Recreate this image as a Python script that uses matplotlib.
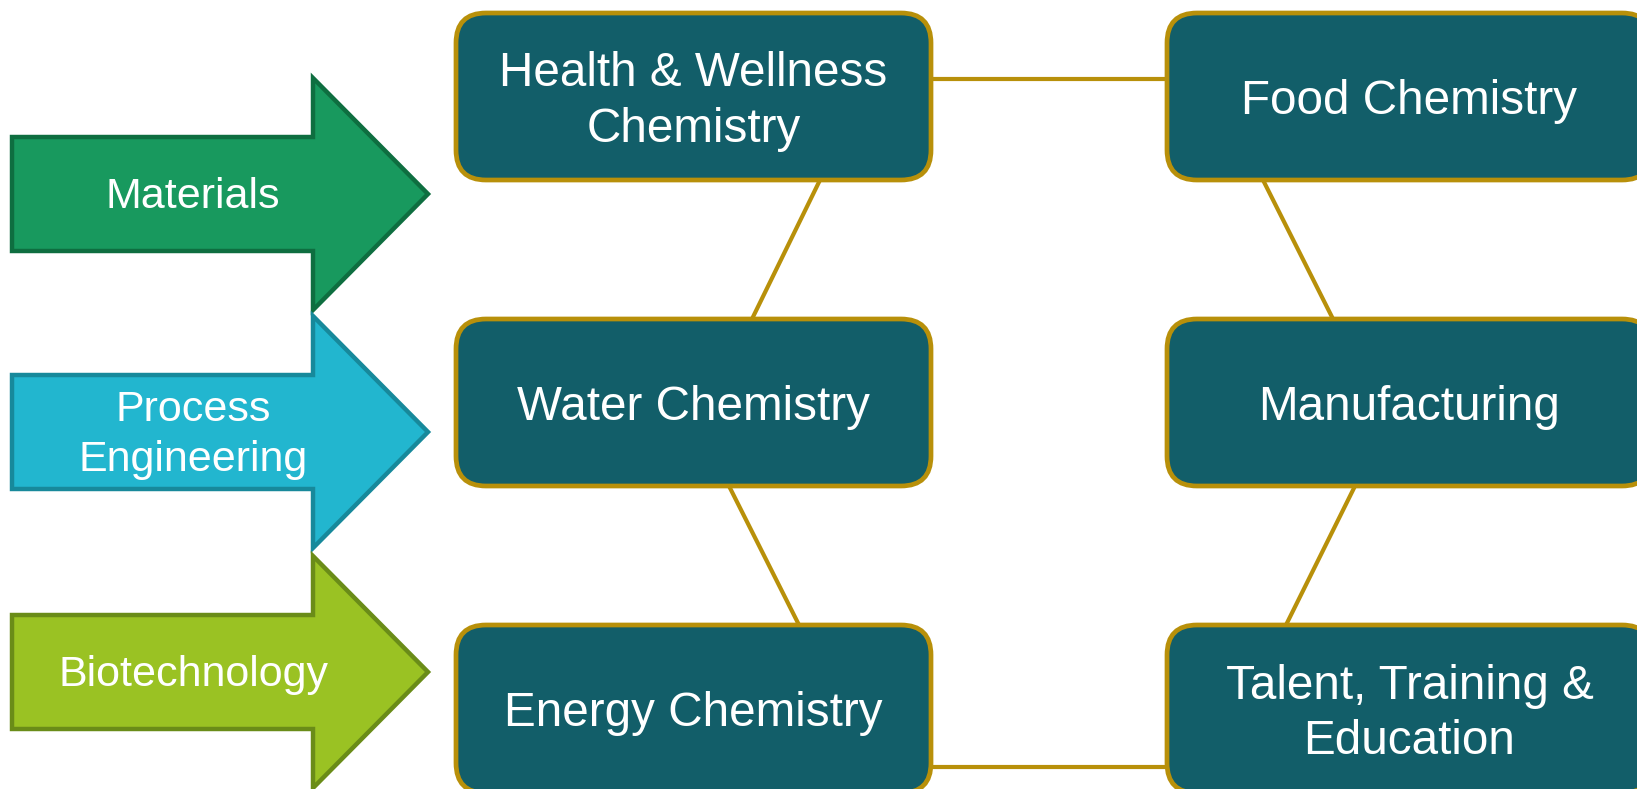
import matplotlib
matplotlib.use("Agg")
import matplotlib.pyplot as plt
from matplotlib.patches import FancyBboxPatch, Polygon

# labels
arrow_labels = ["Materials", "Process\nEngineering", "Biotechnology"]
arrow_fill = ["#18995E", "#22B6CF", "#9AC223"]
arrow_edge = ["#0E6E40", "#17899B", "#6A8C18"]

left_boxes = ["Health & Wellness\nChemistry", "Water Chemistry", "Energy Chemistry"]
right_boxes = ["Food Chemistry", "Manufacturing", "Talent, Training &\nEducation"]

box_fill = "#125E69"
gold = "#B8900A"

W, H = 1637, 789
fig = plt.figure(figsize=(W / 100, H / 100), dpi=100)
ax = fig.add_axes([0, 0, 1, 1])
ax.set_xlim(0, W)
ax.set_ylim(H, 0)
ax.axis("off")

font = "Liberation Sans"

# arrows on the left
tips = [194, 432, 672]
for i, lab in enumerate(arrow_labels):
    cy = tips[i]
    pts = [(12, cy - 57), (313, cy - 57), (313, cy - 116), (428, cy),
           (313, cy + 116), (313, cy + 57), (12, cy + 57)]
    ax.add_patch(Polygon(pts, closed=True, facecolor=arrow_fill[i],
                         edgecolor=arrow_edge[i], lw=3.2, zorder=2))
    ax.text(193, cy + 3, lab, ha="center", va="center", color="white",
            fontsize=31, family=font, linespacing=1.3, zorder=3)

# boxes
cols = [(456, 931), (1167, 1652)]
rows = [(13, 180), (319, 486), (625, 793)]


def draw_box(x0, x1, y0, y1, txt):
    ax.add_patch(FancyBboxPatch((x0, y0), x1 - x0, y1 - y0,
                                boxstyle="round,pad=0,rounding_size=30",
                                facecolor=box_fill, edgecolor=gold,
                                lw=3.4, zorder=2))
    ax.text((x0 + x1) / 2, (y0 + y1) / 2 + 5, txt, ha="center", va="center",
            color="white", fontsize=34.3, family=font, linespacing=1.3,
            zorder=3)


for r in range(3):
    draw_box(cols[0][0], cols[0][1], rows[r][0], rows[r][1], left_boxes[r])
    draw_box(cols[1][0], cols[1][1], rows[r][0], rows[r][1], right_boxes[r])

# connectors
links = [((931, 79), (1167, 79)),
         ((820, 180), (752, 319)),
         ((729, 486), (799, 625)),
         ((931, 767), (1167, 767)),
         ((1263, 180), (1333, 319)),
         ((1355, 486), (1286, 625))]
for (a, b) in links:
    ax.plot([a[0], b[0]], [a[1], b[1]], color=gold, lw=3, zorder=1,
            solid_capstyle="butt")

fig.savefig("out.png", dpi=100)
